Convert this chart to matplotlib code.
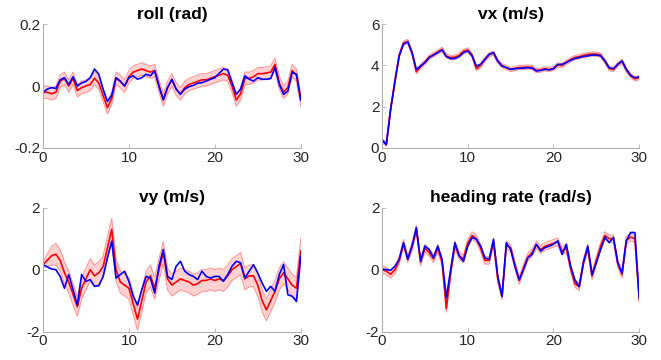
import numpy as np
import matplotlib
matplotlib.use("Agg")
import matplotlib.pyplot as plt

plt.rcParams['font.family'] = ['Liberation Sans', 'DejaVu Sans']

# time grid (s), 0.5 s steps
t = np.arange(0, 30.01, 0.5)

# --- roll (rad) ---
roll_true = [-0.02, -0.01, -0.005, -0.008, 0.02, 0.027, 0.005, 0.03, 0.0, 0.01,
             0.015, 0.027, 0.055, 0.038, -0.01, -0.05, -0.03, 0.027, 0.016, 0.0,
             0.027, 0.033, 0.022, 0.027, 0.038, 0.033, 0.049, 0.0, -0.044, -0.005,
             0.022, -0.01, -0.027, -0.01, -0.002, 0.002, 0.009, 0.011, 0.016, 0.022,
             0.027, 0.041, 0.055, 0.052, 0.011, -0.027, -0.01, 0.033, 0.022, 0.016,
             0.027, 0.022, 0.022, 0.024, 0.06, 0.005, -0.027, -0.016, 0.044, 0.038,
             -0.044]
roll_est = [-0.02, -0.02, -0.025, -0.02, 0.015, 0.025, 0.0, 0.025, -0.015, -0.005,
            0.0, 0.005, 0.025, 0.01, -0.03, -0.07, -0.04, 0.025, 0.015, 0.0,
            0.03, 0.045, 0.05, 0.055, 0.05, 0.045, 0.05, 0.0, -0.045, -0.005,
            0.02, -0.01, -0.025, -0.005, 0.005, 0.01, 0.015, 0.02, 0.02, 0.025,
            0.03, 0.035, 0.04, 0.035, 0.0, -0.045, -0.025, 0.025, 0.025, 0.03,
            0.04, 0.04, 0.042, 0.045, 0.07, 0.01, -0.02, -0.005, 0.05, 0.035,
            -0.045]
roll_std = 0.02

# --- vx (m/s) ---
vx_true = [0.4, 0.15, 1.86, 3.2, 4.46, 5.03, 5.14, 4.62, 3.81, 3.97,
           4.14, 4.38, 4.5, 4.62, 4.75, 4.43, 4.33, 4.33, 4.43, 4.62,
           4.7, 4.46, 3.97, 4.05, 4.3, 4.54, 4.62, 4.22, 3.97, 3.89,
           3.81, 3.84, 3.86, 3.87, 3.89, 3.87, 3.73, 3.76, 3.81, 3.78,
           3.84, 4.05, 4.05, 4.14, 4.25, 4.33, 4.38, 4.43, 4.46, 4.5,
           4.5, 4.46, 4.22, 3.89, 3.84, 4.05, 4.22, 3.81, 3.52, 3.4,
           3.45]
vx_est = [0.35, 0.2, 1.9, 3.25, 4.5, 5.08, 5.16, 4.6, 3.7, 3.95,
          4.15, 4.4, 4.52, 4.65, 4.78, 4.45, 4.38, 4.4, 4.48, 4.68,
          4.75, 4.5, 3.85, 4.0, 4.28, 4.52, 4.6, 4.2, 3.98, 3.9,
          3.8, 3.85, 3.9, 3.9, 3.92, 3.9, 3.75, 3.78, 3.84, 3.8,
          3.85, 4.02, 4.0, 4.15, 4.28, 4.38, 4.42, 4.48, 4.52, 4.55,
          4.55, 4.5, 4.2, 3.85, 3.8, 4.05, 4.2, 3.78, 3.5, 3.35,
          3.4]
vx_std = 0.1

# --- vy (m/s) ---
vy_true = [0.16, 0.09, 0.02, 0.0, -0.22, -0.6, -0.16, -0.65, -1.14, -0.16,
           -0.38, -0.32, -0.54, -0.52, -0.22, 0.38, 0.92, -0.27, -0.16, -0.05,
           -0.38, -0.86, -1.14, -0.65, -0.22, -0.27, -0.76, 0.11, 0.65, -0.22,
           -0.32, 0.11, 0.27, -0.05, -0.16, -0.22, -0.32, -0.05, -0.22, -0.27,
           -0.22, -0.22, -0.38, -0.16, 0.11, 0.27, 0.22, -0.27, -0.05, 0.16,
           -0.11, -0.43, -0.7, -0.54, -0.7, -0.16, 0.16, -0.81, -0.86, -1.03,
           0.43]
vy_est = [0.16, 0.3, 0.45, 0.5, 0.3, -0.1, -0.4, -0.8, -1.2, -0.6,
          -0.3, 0.0, -0.2, -0.1, 0.1, 0.7, 1.3, 0.0, -0.4, -0.5,
          -0.6, -1.1, -1.6, -1.0, -0.4, -0.2, -0.6, 0.0, 0.55, -0.3,
          -0.5, -0.4, -0.3, -0.35, -0.4, -0.5, -0.45, -0.35, -0.35, -0.3,
          -0.35, -0.3, -0.35, -0.2, 0.0, 0.1, 0.2, -0.3, -0.2, -0.2,
          -0.5, -1.0, -1.3, -1.0, -0.7, -0.3, -0.1, -0.3, -0.5, -0.6,
          0.6]
vy_std = [0.08, 0.2, 0.3, 0.35, 0.35, 0.35, 0.35, 0.35, 0.3, 0.35,
          0.35, 0.35, 0.35, 0.35, 0.35, 0.35, 0.35, 0.35, 0.35, 0.35,
          0.35, 0.35, 0.35, 0.35, 0.35, 0.35, 0.35, 0.35, 0.35, 0.35,
          0.35, 0.35, 0.35, 0.35, 0.35, 0.35, 0.35, 0.35, 0.35, 0.35,
          0.35, 0.35, 0.35, 0.35, 0.35, 0.35, 0.35, 0.35, 0.35, 0.35,
          0.35, 0.35, 0.35, 0.35, 0.35, 0.35, 0.35, 0.35, 0.35, 0.35,
          0.4]

# --- heading rate (rad/s) ---
hr_true = [0.02, 0.0, -0.02, 0.11, 0.33, 0.87, 0.33, 0.76, 1.36, 0.27,
           0.76, 0.65, 0.38, 0.76, 0.33, -0.9, 0.0, 0.87, 0.44, 0.27,
           0.76, 1.04, 0.98, 0.76, 0.38, 0.33, 0.98, -0.22, -0.87, 0.87,
           0.65, 0.11, -0.33, 0.0, 0.38, 0.49, 0.82, 0.6, 0.71, 0.76,
           0.82, 0.93, 0.49, 0.82, 0.11, -0.33, -0.55, 0.22, 0.76, -0.16,
           0.22, 0.65, 1.04, 0.87, 1.04, 0.22, -0.11, 0.93, 1.2, 1.2,
           -0.9]
hr_est = [0.0, -0.05, -0.15, 0.0, 0.3, 0.85, 0.35, 0.75, 1.3, 0.25,
          0.7, 0.55, 0.35, 0.7, 0.25, -1.25, -0.1, 0.8, 0.45, 0.35,
          0.85, 1.1, 1.0, 0.7, 0.3, 0.3, 0.9, -0.3, -0.85, 0.8,
          0.7, 0.15, -0.35, 0.05, 0.4, 0.55, 0.8, 0.65, 0.75, 0.8,
          0.85, 0.9, 0.6, 0.7, 0.05, -0.45, -0.55, 0.25, 0.7, -0.2,
          0.3, 0.75, 1.1, 1.0, 1.0, 0.2, -0.15, 0.95, 1.05, 1.0,
          -0.95]
hr_std = 0.12

panels = [
    ("roll (rad)", roll_true, roll_est, roll_std, (-0.2, 0.2), [-0.2, 0, 0.2], ["-0.2", "0", "0.2"]),
    ("vx (m/s)", vx_true, vx_est, vx_std, (0, 6), [0, 2, 4, 6], ["0", "2", "4", "6"]),
    ("vy (m/s)", vy_true, vy_est, vy_std, (-2, 2), [-2, 0, 2], ["-2", "0", "2"]),
    ("heading rate (rad/s)", hr_true, hr_est, hr_std, (-2, 2), [-2, 0, 2], ["-2", "0", "2"]),
]

positions = [
    [0.065, 0.589, 0.390, 0.344],
    [0.578, 0.589, 0.389, 0.344],
    [0.065, 0.079, 0.390, 0.344],
    [0.578, 0.079, 0.389, 0.344],
]

fig = plt.figure(figsize=(6.61, 3.6), dpi=100)

for pos, (title, truth, est, std, ylim, yt, ytl) in zip(positions, panels):
    ax = fig.add_axes(pos)
    est = np.asarray(est)
    std = np.asarray(std) * np.ones_like(est)
    lo, hi = est - std, est + std
    ax.fill_between(t, lo, hi, color=(1.0, 0.82, 0.82), lw=0)
    ax.plot(t, lo, color=(1.0, 0.6, 0.6), lw=0.8)
    ax.plot(t, hi, color=(1.0, 0.6, 0.6), lw=0.8)
    ax.plot(t, est, color='red', lw=1.2)
    ax.plot(t, truth, color='blue', lw=1.2)
    ax.set_xlim(0, 30)
    ax.set_ylim(*ylim)
    ax.set_xticks([0, 10, 20, 30])
    ax.set_yticks(yt)
    ax.set_yticklabels(ytl)
    ax.set_title(title, fontsize=12.5, fontweight='bold', pad=4)
    for s in ['top', 'right']:
        ax.spines[s].set_visible(False)
    for s in ['left', 'bottom']:
        ax.spines[s].set_color('#b0b0b0')
        ax.spines[s].set_linewidth(0.8)
    ax.tick_params(direction='in', length=3, width=0.6, color='#b0b0b0',
                   labelsize=11, labelcolor='#262626', pad=2)

fig.savefig("out.png", dpi=100)
